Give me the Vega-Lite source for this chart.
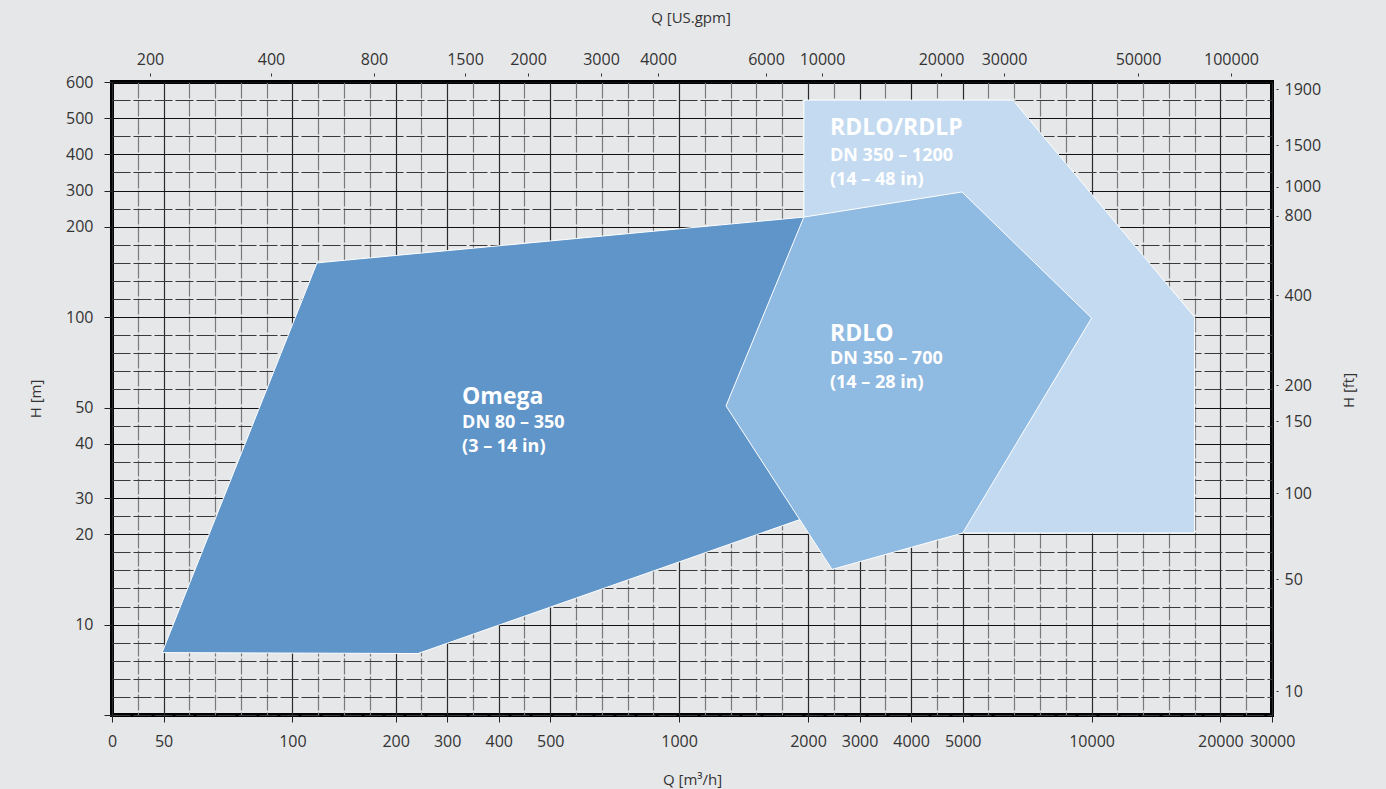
{
  "$schema": "https://vega.github.io/schema/vega-lite/v6.json",
  "width": 1160,
  "height": 633,
  "autosize": {"type": "none"},
  "padding": {"left": 112, "top": 82, "right": 114, "bottom": 74},
  "background": "#e6e7e9",
  "config": {
    "view": {"stroke": "#000000", "strokeWidth": 4, "fill": "#e6e7e9"},
    "font": "Open Sans",
    "axis": {
      "labelFont": "Open Sans",
      "labelFontSize": 16,
      "labelColor": "#333333",
      "titleFont": "Open Sans",
      "titleFontSize": 15,
      "titleFontWeight": "normal",
      "titleColor": "#333333",
      "domain": false,
      "labelOverlap": false,
      "labelFlush": false,
      "tickColor": "#222222",
      "tickWidth": 1
    }
  },
  "datasets": {
    "polygons": [
      {"shape": "RDLO/RDLP", "i": 0, "q": 1968, "h": 226.5},
      {"shape": "RDLO/RDLP", "i": 1, "q": 1968, "h": 550},
      {"shape": "RDLO/RDLP", "i": 2, "q": 6950, "h": 550},
      {"shape": "RDLO/RDLP", "i": 3, "q": 18000, "h": 100},
      {"shape": "RDLO/RDLP", "i": 4, "q": 18000, "h": 20.3},
      {"shape": "RDLO/RDLP", "i": 5, "q": 5000, "h": 20.3},
      {"shape": "Omega", "i": 0, "q": 48.5, "h": 8.45},
      {"shape": "Omega", "i": 1, "q": 123.8, "h": 160},
      {"shape": "Omega", "i": 2, "q": 1968, "h": 226.5},
      {"shape": "Omega", "i": 3, "q": 2425, "h": 26.95},
      {"shape": "Omega", "i": 4, "q": 243.5, "h": 8.4},
      {"shape": "RDLO", "i": 0, "q": 1968, "h": 226.5},
      {"shape": "RDLO", "i": 1, "q": 4985, "h": 296},
      {"shape": "RDLO", "i": 2, "q": 10000, "h": 99.5},
      {"shape": "RDLO", "i": 3, "q": 5000, "h": 20.3},
      {"shape": "RDLO", "i": 4, "q": 2465, "h": 16.1},
      {"shape": "RDLO", "i": 5, "q": 1364, "h": 50.9}
    ],
    "labels": [
      {"kind": "title", "q": 329, "h": 55.8, "text": "Omega"},
      {"kind": "sub", "q": 329, "h": 45.7, "text": "DN 80 – 350\n(3 – 14 in)"},
      {"kind": "title", "q": 2426, "h": 473, "text": "RDLO/RDLP"},
      {"kind": "sub", "q": 2426, "h": 395.5, "text": "DN 350 – 1200\n(14 – 48 in)"},
      {"kind": "title", "q": 2426, "h": 90.7, "text": "RDLO"},
      {"kind": "sub", "q": 2426, "h": 76.8, "text": "DN 350 – 700\n(14 – 28 in)"}
    ],
    "secondary": [
      {"gpm": 200, "ft": 10},
      {"gpm": 100000, "ft": 1900}
    ]
  },
  "layer": [
    {
      "encoding": {
        "x": {
          "field": "q",
          "type": "quantitative",
          "scale": {
            "type": "linear",
            "nice": false,
            "zero": false,
            "domain": [0, 50, 100, 200, 300, 400, 500, 1000, 2000, 3000, 4000, 5000, 10000, 20000, 30000],
            "range": [0, 51.6, 180.4, 283.6, 335.1, 386.7, 438.2, 567.1, 696.0, 747.6, 799.1, 850.7, 979.6, 1108.4, 1160]
          },
          "axis": {
            "orient": "bottom",
            "title": "Q [m³/h]",
            "values": [0, 25, 50, 60, 70, 80, 90, 100, 125, 150, 175, 200, 250, 300, 350, 400, 450, 500, 600, 700, 800, 900, 1000, 1200, 1400, 1600, 1800, 2000, 2500, 3000, 3500, 4000, 4500, 5000, 6000, 7000, 8000, 9000, 10000, 12000, 14000, 16000, 18000, 20000, 25000, 30000],
            "format": "d",
            "labelExpr": "indexof([0,50,100,200,300,400,500,1000,2000,3000,4000,5000,10000,20000,30000], datum.value) >= 0 ? datum.label : ''",
            "grid": true,
            "gridColor": {"condition": {"test": "indexof([0,50,100,200,300,400,500,1000,2000,3000,4000,5000,10000,20000,30000], datum.value) >= 0", "value": "#2a2a2a"}, "value": "#7a7a7a"},
            "gridDash": {"condition": {"test": "indexof([0,50,100,200,300,400,500,1000,2000,3000,4000,5000,10000,20000,30000], datum.value) >= 0", "value": []}, "value": [16, 2]},
            "gridWidth": 1.2,
            "tickOpacity": {"condition": {"test": "indexof([0,50,100,200,300,400,500,1000,2000,3000,4000,5000,10000,20000,30000], datum.value) >= 0", "value": 1}, "value": 0},
            "tickSize": 7,
            "labelPadding": 11,
            "titlePadding": 23
          }
        },
        "y": {
          "field": "h",
          "type": "quantitative",
          "scale": {
            "type": "linear",
            "nice": false,
            "zero": false,
            "domain": [5, 10, 20, 30, 40, 50, 100, 200, 300, 400, 500, 600],
            "range": [633, 542.6, 452.1, 416.0, 361.7, 325.5, 235.1, 144.7, 108.5, 72.3, 36.2, 0]
          },
          "axis": {
            "orient": "left",
            "title": "H [m]",
            "values": [5, 6, 7, 8, 9, 10, 12, 14, 16, 18, 20, 25, 30, 33.3333, 36.6667, 40, 45, 50, 60, 70, 80, 90, 100, 120, 140, 160, 180, 200, 250, 300, 350, 400, 450, 500, 550, 600],
            "format": "d",
            "labelExpr": "indexof([10,20,30,40,50,100,200,300,400,500,600], datum.value) >= 0 ? datum.label : ''",
            "grid": true,
            "gridColor": {"condition": {"test": "indexof([10,20,30,40,50,100,200,300,400,500,600], datum.value) >= 0", "value": "#111111"}, "value": "#3a3a3a"},
            "gridDash": {"condition": {"test": "indexof([10,20,30,40,50,100,200,300,400,500,600], datum.value) >= 0", "value": []}, "value": [18, 3]},
            "gridWidth": 1.2,
            "tickOpacity": {"condition": {"test": "indexof([5,10,20,30,40,50,100,200,300,400,500,600], datum.value) >= 0", "value": 1}, "value": 0},
            "tickSize": 8,
            "labelPadding": 11,
            "titlePadding": 22
          }
        }
      },
      "layer": [
        {
          "data": {"name": "polygons"},
          "transform": [{"filter": "datum.shape === 'RDLO/RDLP'"}],
          "mark": {"type": "line", "interpolate": "linear-closed", "fill": "#c3daf0", "stroke": "#ffffff", "strokeWidth": 1},
          "encoding": {"order": {"field": "i", "type": "quantitative"}}
        },
        {
          "data": {"name": "polygons"},
          "transform": [{"filter": "datum.shape === 'Omega'"}],
          "mark": {"type": "line", "interpolate": "linear-closed", "fill": "#5f95c9", "stroke": "#ffffff", "strokeWidth": 1},
          "encoding": {"order": {"field": "i", "type": "quantitative"}}
        },
        {
          "data": {"name": "polygons"},
          "transform": [{"filter": "datum.shape === 'RDLO'"}],
          "mark": {"type": "line", "interpolate": "linear-closed", "fill": "#8fbae1", "stroke": "#ffffff", "strokeWidth": 1},
          "encoding": {"order": {"field": "i", "type": "quantitative"}}
        },
        {
          "data": {"name": "labels"},
          "transform": [{"filter": "datum.kind === 'title'"}],
          "mark": {"type": "text", "align": "left", "baseline": "middle", "font": "Open Sans", "fontSize": 23, "fontWeight": "bold", "color": "#ffffff"},
          "encoding": {"text": {"field": "text", "type": "nominal"}}
        },
        {
          "data": {"name": "labels"},
          "transform": [{"filter": "datum.kind === 'sub'"}],
          "mark": {"type": "text", "align": "left", "baseline": "middle", "font": "Open Sans", "fontSize": 18, "fontWeight": "bold", "color": "#ffffff", "lineBreak": "\n", "lineHeight": 24},
          "encoding": {"text": {"field": "text", "type": "nominal"}}
        }
      ]
    },
    {
      "data": {"name": "secondary"},
      "mark": {"type": "point", "opacity": 0},
      "encoding": {
        "x": {
          "field": "gpm",
          "type": "quantitative",
          "scale": {
            "type": "linear",
            "nice": false,
            "zero": false,
            "domain": [200, 400, 800, 1500, 2000, 3000, 4000, 6000, 10000, 20000, 30000, 50000, 100000],
            "range": [38, 159, 262, 353, 416, 489, 546, 654, 710, 829, 892, 1026, 1119]
          },
          "axis": {
            "orient": "top",
            "title": "Q [US.gpm]",
            "values": [200, 400, 800, 1500, 2000, 3000, 4000, 6000, 10000, 20000, 30000, 50000, 100000],
            "format": "d",
            "grid": false,
            "offset": 6,
            "tickSize": 3,
            "tickColor": "#333333",
            "labelPadding": 6,
            "titlePadding": 26
          }
        },
        "y": {
          "field": "ft",
          "type": "quantitative",
          "scale": {
            "type": "linear",
            "nice": false,
            "zero": false,
            "domain": [10, 50, 100, 150, 200, 400, 800, 1000, 1500, 1900],
            "range": [609, 497, 411.3, 339, 303, 213, 133.7, 104.7, 63, 7]
          },
          "axis": {
            "orient": "right",
            "title": "H [ft]",
            "titleAngle": 270,
            "values": [10, 50, 100, 150, 200, 400, 800, 1000, 1500, 1900],
            "format": "d",
            "grid": false,
            "offset": 4,
            "tickSize": 2,
            "tickColor": "#333333",
            "labelPadding": 6,
            "titlePadding": 36
          }
        }
      }
    }
  ],
  "resolve": {"scale": {"x": "independent", "y": "independent"}}
}
